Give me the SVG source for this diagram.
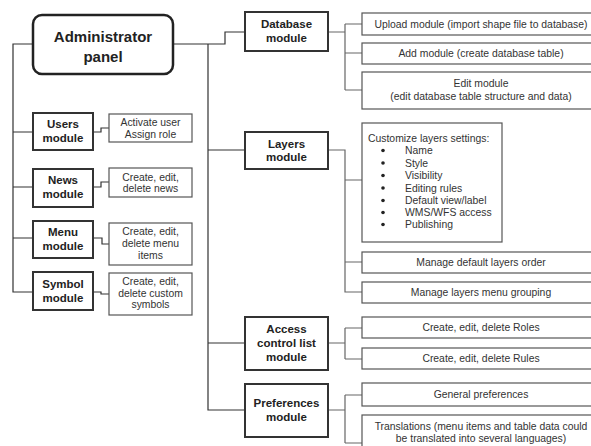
<svg xmlns="http://www.w3.org/2000/svg" width="591" height="446" viewBox="0 0 591 446">
<style>
.t{font-family:"Liberation Sans",Arial,sans-serif;font-size:10.4px;fill:#333;text-anchor:middle}
.tl{font-family:"Liberation Sans",Arial,sans-serif;font-size:10.4px;fill:#333}
.m{font-family:"Liberation Sans",Arial,sans-serif;font-size:11.5px;font-weight:bold;fill:#222;text-anchor:middle}
.a{font-family:"Liberation Sans",Arial,sans-serif;font-size:15px;font-weight:bold;fill:#222;text-anchor:middle}
.mod{fill:#fff;stroke:#333;stroke-width:2}
.sub{fill:#fff;stroke:#555;stroke-width:1.2}
.c{fill:none;stroke:#333;stroke-width:1.2}
.c2{fill:none;stroke:#666;stroke-width:1.2}
</style>
<rect width="591" height="446" fill="#fff"/>
<g id="connectors">
<path class="c" d="M33 44H13V292H33M13 132H33M13 187H33M13 238H33"/>
<path class="c" d="M93 132H101V128H109M93 187H101V182H109M93 238H102V244H109M93 292H101V294H109"/>
<path class="c" d="M173 44H225V32H245M208 44V410H245M208 150H245M208 343H245"/>
<path class="c2" d="M328 32H345M345 24V90M345 24H362M345 53H362M345 90H362"/>
<path class="c2" d="M328 150H345V292H362M345 180H362M345 262H362"/>
<path class="c2" d="M328 343H345M345 328V359M345 328H362M345 359H362"/>
<path class="c2" d="M328 410H345M345 395V443M345 395H362M345 443H362"/>
</g>
<g id="admin"><rect x="33" y="15" width="140" height="59" rx="9" fill="#fff" stroke="#222" stroke-width="2.5"/>
<text class="a" x="103" y="42">Administrator</text><text class="a" x="103" y="62">panel</text></g>
<g id="users"><rect class="mod" x="33" y="113" width="60" height="37"/><text class="m" x="63" y="128">Users</text><text class="m" x="63" y="142">module</text></g>
<g id="users-d"><rect class="sub" x="109" y="114" width="83" height="28"/><text class="t" x="150.5" y="126">Activate user</text><text class="t" x="150.5" y="138">Assign role</text></g>
<g id="news"><rect class="mod" x="33" y="169" width="60" height="38"/><text class="m" x="63" y="184">News</text><text class="m" x="63" y="198">module</text></g>
<g id="news-d"><rect class="sub" x="109" y="168" width="83" height="29"/><text class="t" x="150.5" y="181">Create, edit,</text><text class="t" x="150.5" y="192">delete news</text></g>
<g id="menu"><rect class="mod" x="33" y="221" width="60" height="37"/><text class="m" x="63" y="236">Menu</text><text class="m" x="63" y="250">module</text></g>
<g id="menu-d"><rect class="sub" x="109" y="223" width="83" height="42"/><text class="t" x="150.5" y="235">Create, edit,</text><text class="t" x="150.5" y="247">delete menu</text><text class="t" x="150.5" y="259">items</text></g>
<g id="symbol"><rect class="mod" x="33" y="272" width="60" height="38"/><text class="m" x="63" y="288">Symbol</text><text class="m" x="63" y="302">module</text></g>
<g id="symbol-d"><rect class="sub" x="109" y="273" width="83" height="42"/><text class="t" x="150.5" y="285">Create, edit,</text><text class="t" x="150.5" y="297">delete custom</text><text class="t" x="150.5" y="308">symbols</text></g>
<g id="database"><rect class="mod" x="245" y="12" width="83" height="39"/><text class="m" x="286.5" y="28">Database</text><text class="m" x="286.5" y="42">module</text></g>
<g id="upload"><rect class="sub" x="362" y="13" width="240" height="22"/><text class="t" x="481" y="28">Upload module (import shape file to database)</text></g>
<g id="add"><rect class="sub" x="362" y="43" width="240" height="21"/><text class="t" x="481" y="57">Add module (create database table)</text></g>
<g id="edit"><rect class="sub" x="362" y="72" width="240" height="37"/><text class="t" x="481" y="87">Edit module</text><text class="t" x="481" y="100">(edit database table structure and data)</text></g>
<g id="layers"><rect class="mod" x="245" y="132" width="83" height="37"/><text class="m" x="286.5" y="148">Layers</text><text class="m" x="286.5" y="161">module</text></g>
<g id="customize"><rect class="sub" x="362" y="123" width="140" height="119"/>
<text class="tl" x="368" y="142">Customize layers settings:</text>
<g fill="#222"><circle cx="383" cy="150.5" r="1.8"/><circle cx="383" cy="163" r="1.8"/><circle cx="383" cy="175.5" r="1.8"/><circle cx="383" cy="188" r="1.8"/><circle cx="383" cy="200.5" r="1.8"/><circle cx="383" cy="212.5" r="1.8"/><circle cx="383" cy="224.5" r="1.8"/></g>
<text class="tl" x="405" y="154">Name</text><text class="tl" x="405" y="166.5">Style</text><text class="tl" x="405" y="179">Visibility</text><text class="tl" x="405" y="191.5">Editing rules</text><text class="tl" x="405" y="204">Default view/label</text><text class="tl" x="405" y="216">WMS/WFS access</text><text class="tl" x="405" y="228">Publishing</text></g>
<g id="order"><rect class="sub" x="362" y="252" width="240" height="21"/><text class="t" x="481" y="266">Manage default layers order</text></g>
<g id="grouping"><rect class="sub" x="362" y="282" width="240" height="21"/><text class="t" x="481" y="296">Manage layers menu grouping</text></g>
<g id="acl"><rect class="mod" x="245" y="317" width="83" height="53"/><text class="m" x="286.5" y="333">Access</text><text class="m" x="286.5" y="347">control list</text><text class="m" x="286.5" y="361">module</text></g>
<g id="roles"><rect class="sub" x="362" y="317" width="240" height="21"/><text class="t" x="481" y="331">Create, edit, delete Roles</text></g>
<g id="rules"><rect class="sub" x="362" y="348" width="240" height="21"/><text class="t" x="481" y="362">Create, edit, delete Rules</text></g>
<g id="preferences"><rect class="mod" x="245" y="384" width="83" height="53"/><text class="m" x="286.5" y="407">Preferences</text><text class="m" x="286.5" y="421">module</text></g>
<g id="general"><rect class="sub" x="362" y="383" width="240" height="23"/><text class="t" x="481" y="398">General preferences</text></g>
<g id="translations"><rect class="sub" x="362" y="415" width="240" height="40"/><text class="t" x="481" y="430">Translations (menu items and table data could</text><text class="t" x="481" y="442">be translated into several languages)</text></g>
</svg>
